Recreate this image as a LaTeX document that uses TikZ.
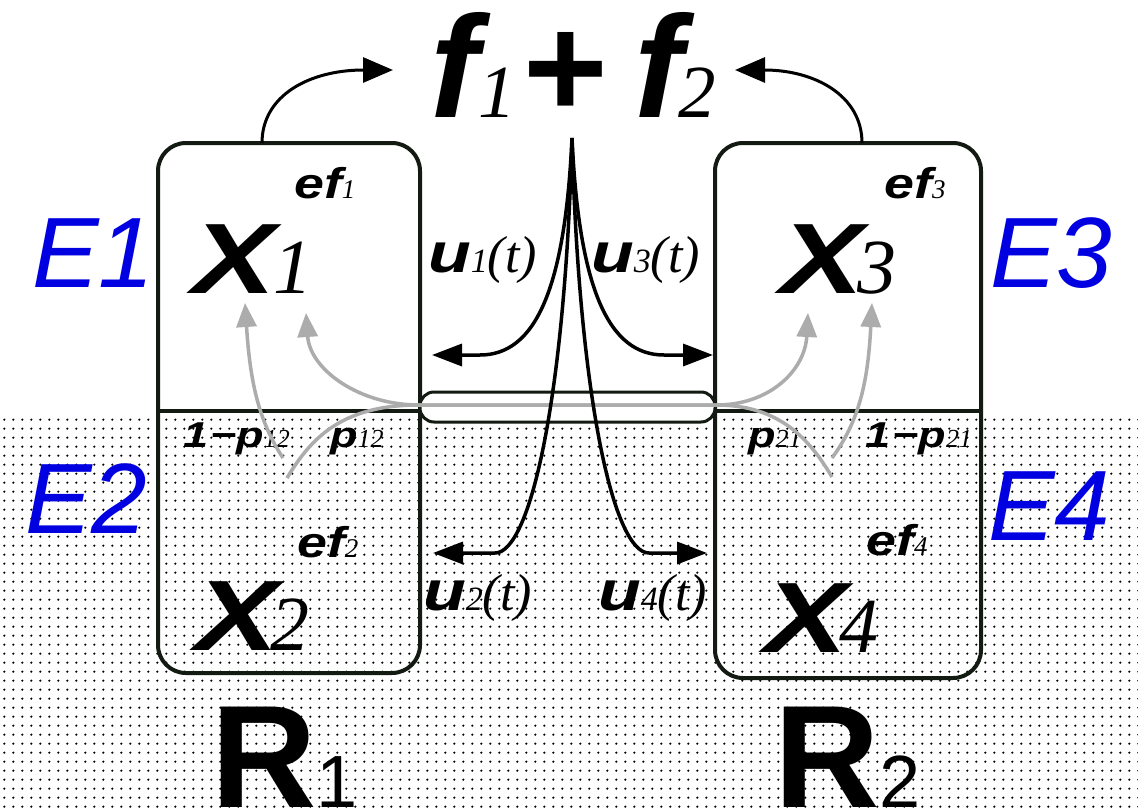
\documentclass[tikz,border=0pt]{standalone}
\usepackage{fontspec}
\setmainfont{Liberation Sans}
\newfontfamily\labelfont{Liberation Sans}[FakeStretch=1.25]
\newfontfamily\digitfont{Liberation Serif}
\usetikzlibrary{arrows.meta,calc,patterns.meta}
\definecolor{boxline}{RGB}{18,26,18}
\definecolor{eblue}{RGB}{0,0,225}
\newcommand\fsz[1]{\fontsize{#1}{#1}\selectfont}
\newcommand\bi[2]{{\labelfont\bfseries\itshape\fsz{#1}#2}}
\newcommand\bif[2]{{\bfseries\itshape\fsz{#1}#2}}
\newcommand\di[2]{{\digitfont\itshape\fsz{#1}#2}}
\tikzdeclarepattern{
  name=bgdots, type=uncolored,
  bounding box={(0pt,0pt) and (8.8pt,8.8pt)},
  tile size={(8.8pt,8.8pt)},
  code={\pgfpathcircle{\pgfqpoint{4.4pt}{4.4pt}}{1.25pt}\pgfusepath{fill}}
}

\begin{document}
\begin{tikzpicture}[x=1pt, y=-1pt,
  regionbox/.style={draw=boxline, line width=4pt, rounded corners=28pt, inner sep=0pt},
  divider/.style={draw=boxline, line width=4pt},
  tube/.style={draw=boxline, line width=3pt, fill=white, rounded corners=14pt, inner sep=0pt},
  outarrow/.style={line width=3pt, -{Triangle[length=30pt,width=25pt]}},
  ctrl/.style={line width=3.5pt, -{Triangle[length=30pt,width=22pt]}},
  flow/.style={draw=gray!65, line width=3.5pt, -{Triangle[length=24pt,width=20pt]}},
  lbl/.style={inner sep=0pt, anchor=base west},
  elbl/.style={lbl, text=eblue, font=\itshape\fsz{100}}
]
  % background: white above, dotted below
  \fill[white] (0,0) rectangle (1138,811);
  \fill[pattern=bgdots, pattern color=black] (0,413) rectangle (1138,811);
  \useasboundingbox (0,0) rectangle (1138,811);

  % the two regions
  \node[regionbox, minimum width=262pt, minimum height=530pt] (R1box) at (289,408) {};
  \node[regionbox, minimum width=266pt, minimum height=535pt] (R2box) at (848,410.5) {};
  \coordinate (mid1) at (289,411);
  \coordinate (mid2) at (848,411);
  \draw[divider] (mid1 -| R1box.west) -- (mid1 -| R1box.east);
  \draw[divider] (mid2 -| R2box.west) -- (mid2 -| R2box.east);
  \node[tube, minimum width=295pt, minimum height=30pt] (channel) at (567.5,407) {};

  % labels
  \node[lbl] (ftotal) at (430,117) {\bif{145}{f}\di{75}{1}\kern8pt{\bfseries\fsz{145}+}\kern26pt\bif{145}{f}\kern-4pt\di{75}{2}};
  \node[lbl] (x1) at (192,293) {\bi{100}{X}\kern-2pt\di{78}{1}};
  \node[lbl] (x3) at (780,293) {\bi{100}{X}\kern-6pt\di{78}{3}};
  \node[lbl] (x2) at (195,650) {\bi{100}{X}\kern-8pt\di{78}{2}};
  \node[lbl] (x4) at (764,652) {\bi{100}{X}\kern-8pt\di{78}{4}};
  \node[lbl] (ef1) at (294,198) {\bi{43}{ef}\di{27}{1}};
  \node[lbl] (ef3) at (884,198) {\bi{43}{ef}\di{27}{3}};
  \node[lbl] (ef2) at (297,557) {\bi{43}{ef}\di{27}{2}};
  \node[lbl] (ef4) at (866,555) {\bi{43}{ef}\di{27}{4}};
  \node[elbl] (e1) at (32,287) {E1};
  \node[elbl] (e2) at (25,533) {E2};
  \node[elbl] (e3) at (990,287) {E3};
  \node[elbl] (e4) at (988,540) {E4};
  \node[lbl] (u1) at (428,272) {\bi{56}{u}\di{34}{1}\di{52}{(t)}};
  \node[lbl] (u3) at (591,272) {\bi{56}{u}\di{34}{3}\di{52}{(t)}};
  \node[lbl] (u2) at (423,610) {\bi{56}{u}\di{34}{2}\di{52}{(t)}};
  \node[lbl] (u4) at (598,610) {\bi{56}{u}\di{34}{4}\di{52}{(t)}};
  \node[lbl] (q12) at (183,447) {\bi{36}{1\kern2pt−p}\di{26}{12}};
  \node[lbl] (p12) at (330,447) {\bi{36}{p}\di{26}{12}};
  \node[lbl] (p21) at (748,447) {\bi{36}{p}\di{26}{21}};
  \node[lbl] (q21) at (865,447) {\bi{36}{1\kern2pt−p}\di{26}{21}};
  \node[lbl] (r1) at (211,807) {{\bfseries\fsz{146}R}{\fsz{74}1}};
  \node[lbl] (r2) at (774,807) {{\bfseries\fsz{146}R}{\fsz{74}2}};

  % outputs to f1+f2
  \coordinate (a1) at (262,143);
  \coordinate (a2) at (862,143);
  \coordinate (t1) at (393,70);
  \coordinate (t2) at (735,70);
  \draw[outarrow] (a1) .. controls (262,95) and (310,70) .. (t1);
  \draw[outarrow] (a2) .. controls (862,95) and (814,70) .. (t2);

  % transition flows
  \coordinate (o12a) at (283,458);
  \coordinate (o12b) at (287,478);
  \coordinate (o21a) at (832,458);
  \coordinate (o21b) at (832,477);
  \coordinate (x1in) at (245,303);
  \coordinate (x1cross) at (306,313);
  \coordinate (x3in) at (872,303);
  \coordinate (x3cross) at (808,313);
  \draw[flow] (o12a) .. controls (258,420) and (250,380) .. (x1in);
  \draw[flow] (o12b) .. controls (310,440) and (340,405) .. (channel.west |- 0,405) -- (channel.east |- 0,405) .. controls (770,405) and (805,370) .. (x3cross);
  \draw[flow] (o21b) .. controls (810,440) and (780,405) .. (channel.east |- 0,405) -- (channel.west |- 0,405) .. controls (360,405) and (310,370) .. (x1cross);
  \draw[flow] (o21a) .. controls (860,420) and (868,380) .. (x3in);

  % controls u1..u4 from f1+f2
  \coordinate (spike) at (572,138);
  \coordinate (u1end) at (432,355);
  \coordinate (u3end) at (713,355);
  \coordinate (u2end) at (433,553);
  \coordinate (u4end) at (707,553);
  \draw[ctrl] (spike) .. controls (565,290) and (535,355) .. (480,355) -- (u1end);
  \draw[ctrl] (spike) .. controls (579,290) and (609,355) .. (664,355) -- (u3end);
  \draw[ctrl] (spike) .. controls (565,400) and (530,553) .. (495,553) -- (u2end);
  \draw[ctrl] (spike) .. controls (579,400) and (614,553) .. (649,553) -- (u4end);
\end{tikzpicture}
\end{document}
